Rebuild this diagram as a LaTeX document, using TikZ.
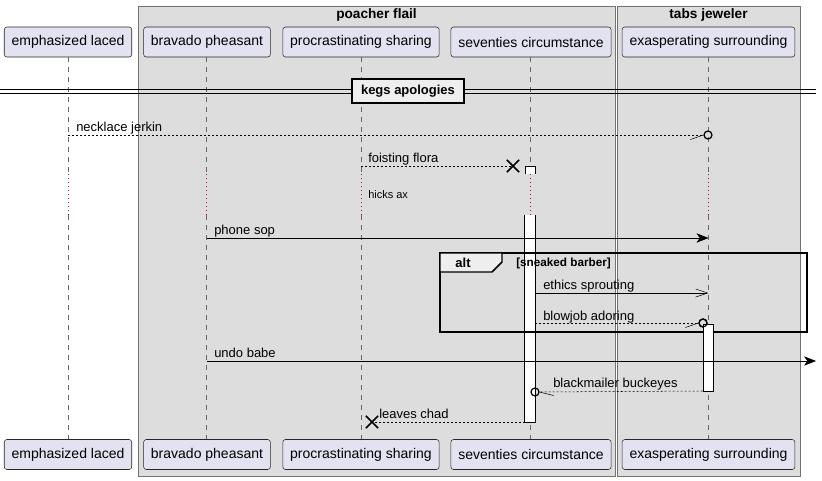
\documentclass[tikz,border=0pt]{standalone}
\usepackage{fontspec}
\setmainfont{Liberation Sans}
\usetikzlibrary{arrows.meta,positioning,fit,shapes.misc}

\definecolor{partfill}{HTML}{E2E2F0}
\definecolor{grpfill}{HTML}{DDDDDD}
\definecolor{tabfill}{HTML}{EEEEEE}
\definecolor{delayred}{HTML}{D0004A}

\begin{document}
\begin{tikzpicture}[x=0.75pt,y=-0.75pt,
  part/.style={rectangle,draw=black!85,fill=partfill,rounded corners=2pt,
               minimum height=22.5pt,inner xsep=5.5pt,font=\fontsize{10.5}{12}\selectfont},
  grp/.style={draw=black!55,fill=grpfill},
  grptitle/.style={font=\fontsize{10.25}{11}\selectfont\bfseries,anchor=base},
  life/.style={black!60,dash pattern=on 3.75pt off 3.75pt},
  delay/.style={draw=delayred,line width=0.75pt,dash pattern=on 0.75pt off 2.25pt},
  act/.style={rectangle,fill=white,inner sep=0pt,minimum width=7.5pt},
  msg/.style={font=\fontsize{9.75}{11}\selectfont,anchor=base west,inner sep=0pt},
  sync/.style={-{Stealth[length=9pt,width=7pt,inset=2.5pt]}},
  async/.style={-{Straight Barb[length=9pt,width=6pt]}},
  reply/.style={dash pattern=on 1.5pt off 1.5pt},
  endo/.style={circle,draw,line width=0.9pt,minimum size=6pt,inner sep=0pt},
  xnode/.style={cross out,draw,line width=1.2pt,minimum size=8pt,inner sep=0pt},
]
  \useasboundingbox (0,0) rectangle (822,480);

  % Boxes
  \draw[grp] (138,6) rectangle (615,476);
  \draw[grp] (617,6) rectangle (800,476);
  \node[grptitle] at (376.5,18) {poacher flail};
  \node[grptitle] at (708.5,18) {tabs jeweler};

  % Participants
  \node[part] (emph)  at (68,42)  {emphasized laced};
  \node[part] (brav)  at (207,42) {bravado pheasant};
  \node[part] (procr) at (361,42) {procrastinating sharing};
  \node[part] (sev)   at (531,42) {seventies circumstance};
  \node[part] (exasp) at (708.5,42) {exasperating surrounding};

  \node[part] (emphB)  at (68,454.5)  {emphasized laced};
  \node[part] (bravB)  at (207,454.5) {bravado pheasant};
  \node[part] (procrB) at (361,454.5) {procrastinating sharing};
  \node[part] (sevB)   at (531,454.5) {seventies circumstance};
  \node[part] (exaspB) at (708.5,454.5) {exasperating surrounding};

  % Lifelines, with the delay
  \draw[life] (68,57) -- (68,172) (68,215) -- (68,439);
  \draw[life] (206,57) -- (206,172) (206,215) -- (206,439);
  \draw[life] (361,57) -- (361,172) (361,215) -- (361,439);
  \draw[life] (530,57) -- (530,172) (530,215) -- (530,439);
  \draw[life] (708,57) -- (708,172) (708,215) -- (708,439);
  \draw[delay] (68,174) -- (68,215) (206,174) -- (206,215) (361,174) -- (361,215)
               (530,174) -- (530,215) (708,174) -- (708,215);
  \node[msg,font=\fontsize{8.25}{9}\selectfont] (hicks) at (368,198) {hicks ax};

  % Divider
  \draw (0,89.5) -- (816,89.5);
  \draw (0,93) -- (816,93);
  \node[draw,line width=1.5pt,fill=tabfill,minimum width=84pt,minimum height=18pt,
        font=\fontsize{9.75}{11}\selectfont\bfseries] (div) at (408,91) {kegs apologies};

  % Activations
  \fill[white] (525,166) rectangle (535,174);
  \draw (525,174) -- (525,166) -- (535,166) -- (535,174);
  \node[act,fit={(530,215) (530,422)}] (act2) {};
  \draw (act2.north west) -- (act2.south west) -- (act2.south east) -- (act2.north east);

  % Messages
  \node[endo] (c1) at (708,135) {};
  \draw[reply] (emph |- c1) -- (c1);
  \draw (c1.west) -- ++(-13,4.5);
  \node[msg] (m1) at (76,131) {necklace jerkin};

  \node[xnode] (x1) at (513,166) {};
  \draw[reply] (procr |- x1) -- (x1.center);
  \node[msg] (m2) at (368,162) {foisting flora};

  \draw[sync] (brav |- 0,238) -- (exasp |- 0,238);
  \node[msg] (m3) at (214,234) {phone sop};

  % alt
  \draw[line width=1.1pt] (440,253) rectangle (807,332);
  \draw[line width=1.1pt,fill=tabfill] (440,253) -- (502,253) -- (502,262) -- (492,272) -- (440,272) -- cycle;
  \node[font=\fontsize{9.75}{11}\selectfont\bfseries,anchor=base] (alt) at (463,267) {alt};
  \node[font=\fontsize{8.8}{10}\selectfont\bfseries,anchor=base west,inner sep=0pt] (guard) at (516,266) {[sneaked barber]};

  \draw[async] (act2.east |- 0,293) -- (exasp |- 0,293);
  \node[msg] (m4) at (543,289) {ethics sprouting};

  \node[endo] (c2) at (703,323) {};
  \draw[reply] (act2.east |- c2) -- (c2);
  \draw (c2.west) -- ++(-13,4.5);
  \node[msg] (m5) at (543,320) {blowjob adoring};
  \node[act,draw,fit={(708,324) (708,391)}] (act3) {};
  \node[endo] at (703,323) {};

  \coordinate (edge) at (816,361);
  \draw[sync] (brav |- edge) -- (edge);
  \node[msg] (m6) at (214,357) {undo babe};

  \node[endo] (c3) at (535,392) {};
  \draw[reply] (act3.west |- 0,391) -- (c3);
  \draw (c3.east) -- ++(14,3.5);
  \node[msg] (m7) at (553,387) {blackmailer buckeyes};

  \node[xnode] (x2) at (372,422) {};
  \draw[reply] (act2.west |- x2) -- (x2.center);
  \node[msg] (m8) at (379,418) {leaves chad};
\end{tikzpicture}
\end{document}
